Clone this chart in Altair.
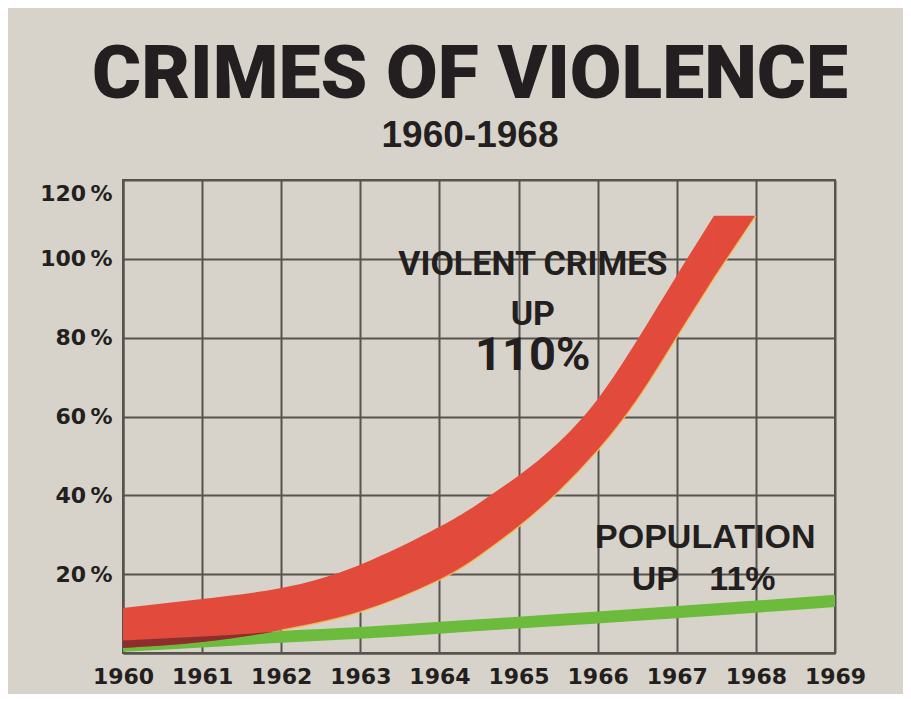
import altair as alt
import pandas as pd

# ---- data ----
YEAR_TICKS = [1960, 1961, 1962, 1963, 1964, 1965, 1966, 1967, 1968, 1969]
PCT_TICKS = [0, 20, 40, 60, 80, 100, 120]

RED_YEARS = [1960, 1961, 1962, 1963, 1964, 1964.5, 1965, 1965.5, 1966, 1966.5, 1967, 1967.47]
RED_LOWER = [1.3, 2.8, 5.8, 10.4, 18.5, 24.5, 32.0, 40.8, 51.3, 64.2, 80.0, 95.0]
RED_UPPER = [11.4, 13.7, 16.5, 22.4, 32.0, 38.0, 45.0, 53.3, 64.4, 79.4, 95.8, 110.9]

CAP_YEARS = [1967.47, 1968.0]
CAP_LOWER = [95.0, 110.9]
CAP_UPPER = [110.9, 110.9]

GREEN_YEARS = [1960, 1961, 1962, 1963, 1964, 1965, 1966, 1967, 1968, 1969]
GREEN_LOWER = [0.3, 1.4, 2.6, 3.6, 4.9, 6.2, 7.5, 8.8, 10.2, 11.7]
GREEN_UPPER = [3.2, 4.2, 5.6, 6.6, 7.9, 9.2, 10.5, 11.9, 13.3, 14.8]

OVERLAP_YEARS = [1960, 1961, 1961.9]
OVERLAP_LOWER = [1.3, 2.8, 5.3]
OVERLAP_UPPER = [3.2, 4.2, 5.3]

VC_TEXT = ["VIOLENT CRIMES", "UP"]
VC_X = [1965.18, 1965.18]
VC_Y = [95.9, 83.2]
VC_BIG_TEXT = ["110%"]
VC_BIG_X = [1965.18]
VC_BIG_Y = [71.8]
POP_TEXT = ["POPULATION", "UP", "11%"]
POP_X = [1967.36, 1966.73, 1967.83]
POP_Y = [26.6, 16.0, 16.0]

red = pd.DataFrame({"x": RED_YEARS, "lo": RED_LOWER, "hi": RED_UPPER})
cap = pd.DataFrame({"x": CAP_YEARS, "lo": CAP_LOWER, "hi": CAP_UPPER})
green = pd.DataFrame({"x": GREEN_YEARS, "lo": GREEN_LOWER, "hi": GREEN_UPPER})
overlap = pd.DataFrame({"x": OVERLAP_YEARS, "lo": OVERLAP_LOWER, "hi": OVERLAP_UPPER})
edge = red[red["x"] >= 1962]
vc = pd.DataFrame({"x": VC_X, "y": VC_Y, "t": VC_TEXT})
vcb = pd.DataFrame({"x": VC_BIG_X, "y": VC_BIG_Y, "t": VC_BIG_TEXT})
pop = pd.DataFrame({"x": POP_X, "y": POP_Y, "t": POP_TEXT})

INK = "#231f20"
GRID = "#57534f"
RED = "#e24b3b"
GREEN = "#6dbb3c"
MAROON = "#8c2e2d"
BG = "#d7d3ca"
HEAVY = "Roboto"

xscale = alt.Scale(domain=[1960, 1969], nice=False, zero=False)
yscale = alt.Scale(domain=[0, 120], nice=False)

X = alt.X("x:Q", scale=xscale,
          axis=alt.Axis(values=YEAR_TICKS, format="d", title=None, labelPadding=13,
                        labelFlush=False, labelOverlap=False, labelBound=False))
Y = alt.Y("lo:Q", scale=yscale,
          axis=alt.Axis(values=PCT_TICKS, title=None, labelPadding=11, labelFlush=False,
                        labelOverlap=False,
                        labelOffset={"condition": {"test": "datum.value == 120", "value": 13},
                                     "value": 0},
                        labelExpr="datum.value == 0 ? '' : datum.value + '\u2009%'"))

g_layer = alt.Chart(green).mark_area(color=GREEN, interpolate="monotone").encode(
    x=X, y=Y, y2="hi:Q")
r_layer = alt.Chart(red).mark_area(color=RED, interpolate="natural").encode(
    x="x:Q", y="lo:Q", y2="hi:Q")
c_layer = alt.Chart(cap).mark_area(color=RED, interpolate="linear").encode(
    x="x:Q", y="lo:Q", y2="hi:Q")
o_layer = alt.Chart(overlap).mark_area(color=MAROON, interpolate="monotone").encode(
    x="x:Q", y="lo:Q", y2="hi:Q")
e_layer = alt.Chart(edge).mark_line(color="#f3c75a", strokeWidth=1.5, opacity=0.8,
                                    interpolate="natural").encode(x="x:Q", y="lo:Q")
e2_layer = alt.Chart(cap).mark_line(color="#f3c75a", strokeWidth=1.5, opacity=0.8).encode(
    x="x:Q", y="lo:Q")

vc_layer = alt.Chart(vc).mark_text(font=HEAVY, fontWeight="bold",
                                   fontSize=34, color=INK, align="center",
                                   baseline="alphabetic").encode(
    x="x:Q", y="y:Q", text="t:N")
vcb_layer = alt.Chart(vcb).mark_text(font=HEAVY, fontWeight="bold",
                                     fontSize=47, color=INK, align="center",
                                     baseline="alphabetic").encode(
    x="x:Q", y="y:Q", text="t:N")
pop_layer = alt.Chart(pop).mark_text(font="Liberation Sans", fontWeight="bold",
                                     fontSize=34, color=INK, align="center",
                                     baseline="alphabetic").encode(
    x="x:Q", y="y:Q", text="t:N")

chart = alt.layer(
    g_layer, r_layer, c_layer, o_layer, e_layer, e2_layer, vc_layer, vcb_layer, pop_layer
).properties(
    width=712,
    height=473,
    padding={"left": 115, "top": 172, "right": 68, "bottom": 41},
    autosize=alt.AutoSizeParams(type="none"),
    background=BG,
    title=alt.Title(
        text="CRIMES OF VIOLENCE",
        subtitle="1960-1968",
        font=HEAVY,
        fontSize=75,
        fontWeight=900,
        color=INK,
        subtitleFont="Liberation Sans",
        subtitleFontSize=37,
        subtitleFontWeight="bold",
        subtitleColor=INK,
        subtitlePadding=4,
        anchor="middle",
        frame="group",
        offset=25,
        dx=-9,
    ),
).configure_view(
    stroke=GRID, strokeWidth=2
).configure_axis(
    grid=True, gridColor=GRID, gridWidth=2, gridOpacity=1,
    domainColor=GRID, domainWidth=2, ticks=False,
    labelFont="DejaVu Sans", labelFontWeight="bold", labelFontSize=22, labelColor=INK,
)

chart.save("out.html", embed_options={"renderer": "svg", "actions": False})
